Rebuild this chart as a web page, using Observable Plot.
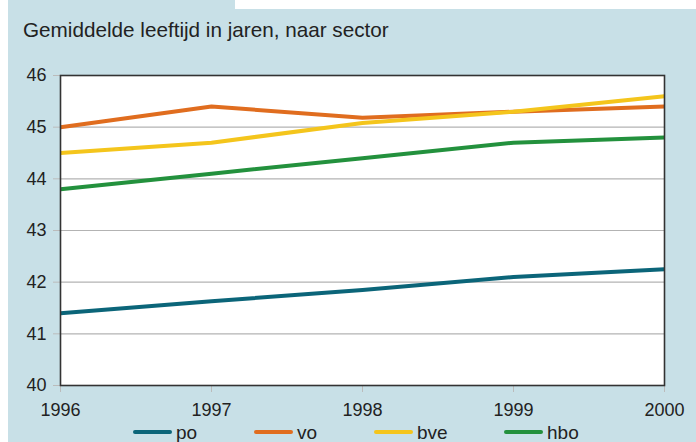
<!DOCTYPE html>
<html>
<head>
<meta charset="utf-8">
<script src="https://cdn.jsdelivr.net/npm/d3@7"></script>
<script src="https://cdn.jsdelivr.net/npm/@observablehq/plot@0.6"></script>
<style>
  html, body { margin: 0; padding: 0; background: #ffffff; }
  #wrap { position: relative; width: 696px; height: 442px; overflow: hidden; background: #ffffff; font-family: "Liberation Sans", Arial, sans-serif; color: #222; }
  #bg { position: absolute; left: 8px; top: 0; width: 688px; height: 442px; background: #c8e0e7; }
  #notch { position: absolute; left: 235px; top: 0; width: 461px; height: 9px; background: #ffffff; }
  #title { position: absolute; left: 23px; top: 20px; font-size: 20.7px; line-height: 1; white-space: nowrap; color: #222; }
  #chart { position: absolute; left: 0; top: 55px; }
  #legend { position: absolute; top: 422px; left: 0; width: 696px; height: 20px; }
  .item { position: absolute; top: 0; height: 20px; display: flex; align-items: center; font-size: 19px; line-height: 1; }
  .sw { width: 39px; height: 4px; border-radius: 2px; margin-right: 4px; }
</style>
</head>
<body>
<div id="wrap">
  <div id="bg"></div>
  <div id="notch"></div>
  <div id="title">Gemiddelde leeftijd in jaren, naar sector</div>
  <div id="chart"></div>
  <div id="legend"></div>
</div>
<script>
const years = [1996, 1997, 1998, 1999, 2000];
const seriesNames = ["po", "vo", "bve", "hbo"];
const po  = [41.40, 41.63, 41.85, 42.10, 42.25];
const vo  = [45.00, 45.40, 45.18, 45.30, 45.40];
const bve = [44.50, 44.70, 45.08, 45.30, 45.60];
const hbo = [43.80, 44.10, 44.40, 44.70, 44.80];
const colors = ["#0b6579", "#e06d1f", "#f4c51c", "#23913d"];
const yTicks = [40, 41, 42, 43, 44, 45, 46];
const gridTicks = [41, 42, 43, 44, 45];

const valuesBySeries = {po, vo, bve, hbo};
const rows = seriesNames.flatMap(s => years.map((yr, i) => ({series: s, year: yr, value: valuesBySeries[s][i]})));

const chart = Plot.plot({
  width: 696,
  height: 365,
  marginLeft: 60,
  marginRight: 32,
  marginTop: 20,
  marginBottom: 35,
  style: {background: "transparent", fontFamily: "'Liberation Sans', Arial, sans-serif", fontSize: "18px", color: "#222"},
  x: {domain: [1996, 2000], type: "linear"},
  y: {domain: [40, 46]},
  color: {domain: seriesNames, range: colors},
  marks: [
    Plot.rect([0], {x1: 1996, x2: 2000, y1: 40, y2: 46, fill: "#ffffff"}),
    Plot.ruleY(gridTicks, {stroke: "#b3b3b3", strokeWidth: 1.2}),
    Plot.axisX({ticks: years, tickFormat: d => String(d), tickSize: 7, tickPadding: 11, stroke: "#bbbbbb", fill: "#222", label: null}),
    Plot.axisY({ticks: yTicks, tickFormat: d => String(d), tickSize: 7, tickPadding: 7, stroke: "#bbbbbb", fill: "#222", label: null}),
    Plot.line(rows, {x: "year", y: "value", z: "series", stroke: "series", strokeWidth: 4, strokeLinejoin: "round", strokeLinecap: "butt"}),
    Plot.frame({stroke: "#333333", strokeWidth: 1.6})
  ]
});
document.getElementById("chart").appendChild(chart);

const legendPos = [133, 254, 374, 504];
const legend = document.getElementById("legend");
seriesNames.forEach((s, i) => {
  const item = document.createElement("div");
  item.className = "item";
  item.style.left = legendPos[i] + "px";
  const sw = document.createElement("div");
  sw.className = "sw";
  sw.style.background = colors[i];
  const t = document.createElement("span");
  t.textContent = s;
  item.appendChild(sw);
  item.appendChild(t);
  legend.appendChild(item);
});
</script>
</body>
</html>
